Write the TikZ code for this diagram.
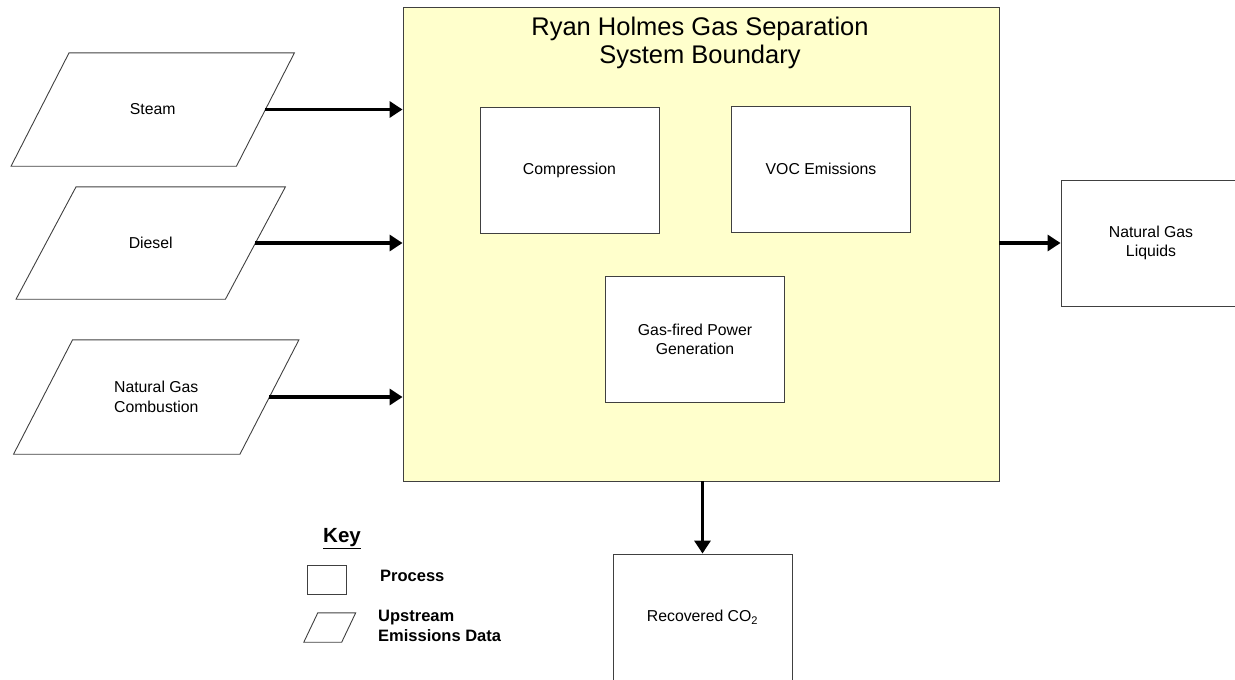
\documentclass[tikz,border=0pt]{standalone}
\usepackage{fontspec}
\setmainfont{Liberation Sans}
\usetikzlibrary{arrows.meta}
\definecolor{bndfill}{HTML}{FFFFCC}
\definecolor{edge}{HTML}{404040}
\newcommand\paranode[7]{%
  \node[paratext, minimum width=#4, minimum height=#5] (#1) at (#2,#3) {#7};
  \draw[parastyle] ([xshift=#6]#1.north west) -- ([xshift=#6]#1.north east)
    -- ([xshift=-#6]#1.south east) -- ([xshift=-#6]#1.south west) -- cycle;}
\begin{document}
\begin{tikzpicture}[x=1pt,y=-1pt,
  lbl/.style={font=\fontsize{15.8}{19.5}\selectfont, align=center, text=black},
  procbox/.style={draw=edge, line width=0.9pt, fill=white, minimum width=179, minimum height=126, inner sep=0pt, lbl},
  paratext/.style={inner sep=0pt, lbl},
  parastyle/.style={draw=edge, line width=0.9pt},
  flow/.style={line width=3.2pt, -{Triangle[length=13pt,width=16pt]}},
  keytxt/.style={font=\fontsize{16.5}{20}\selectfont\bfseries, align=left, anchor=west, inner sep=0pt}]
\useasboundingbox (0,0) rectangle (1235,680);
\clip (0,0) rectangle (1235,680);
% system boundary
\node[draw=edge, line width=0.9pt, fill=bndfill, minimum width=596, minimum height=474, inner sep=0pt] (bnd) at (701,244) {};
\node[font=\fontsize{25.5}{28}\selectfont, align=center, inner sep=0pt] (title) at (700,43) {Ryan Holmes Gas Separation\\System Boundary};
% processes inside
\node[procbox] (comp) at (569.5,170) {Compression};
\node[procbox] (voc) at (821,169) {VOC Emissions};
\node[procbox] (gas) at (695,339.5) {Gas-fired Power\\Generation};
% outputs
\node[procbox, minimum width=180] (ngl) at (1151,243) {Natural Gas\\Liquids};
\node[procbox] (co2) at (702.5,617) {Recovered CO\textsubscript{2}};
% upstream inputs
\paranode{steam}{152.75}{109.5}{225}{113}{29}{Steam}
\paranode{diesel}{150.75}{243}{209}{112}{30}{Diesel}
\paranode{ngc}{156.25}{397}{226}{114}{29.5}{Natural Gas\\Combustion}
% connectors
\draw[flow] (steam.east) -- (steam.east -| bnd.west);
\draw[flow] (diesel.east) -- (diesel.east -| bnd.west);
\draw[flow] (ngc.east) -- (ngc.east -| bnd.west);
\draw[flow] (bnd.east |- ngl.west) -- (ngl.west);
\draw[flow] (bnd.south -| co2.north) -- (co2.north);
% key
\node[font=\fontsize{20.5}{24}\selectfont\bfseries, inner sep=0pt] (keyt) at (342,539) {\underline{Key}};
\node[draw=edge, line width=0.9pt, minimum width=39, minimum height=29, inner sep=0pt] (keyproc) at (326.5,579.5) {};
\node[keytxt] (keyproclbl) at (380,576) {Process};
\paranode{keypara}{329.75}{627.5}{37.5}{29}{7}{}
\node[keytxt] (keyparalbl) at (378,626) {Upstream\\Emissions Data};
\end{tikzpicture}
\end{document}
